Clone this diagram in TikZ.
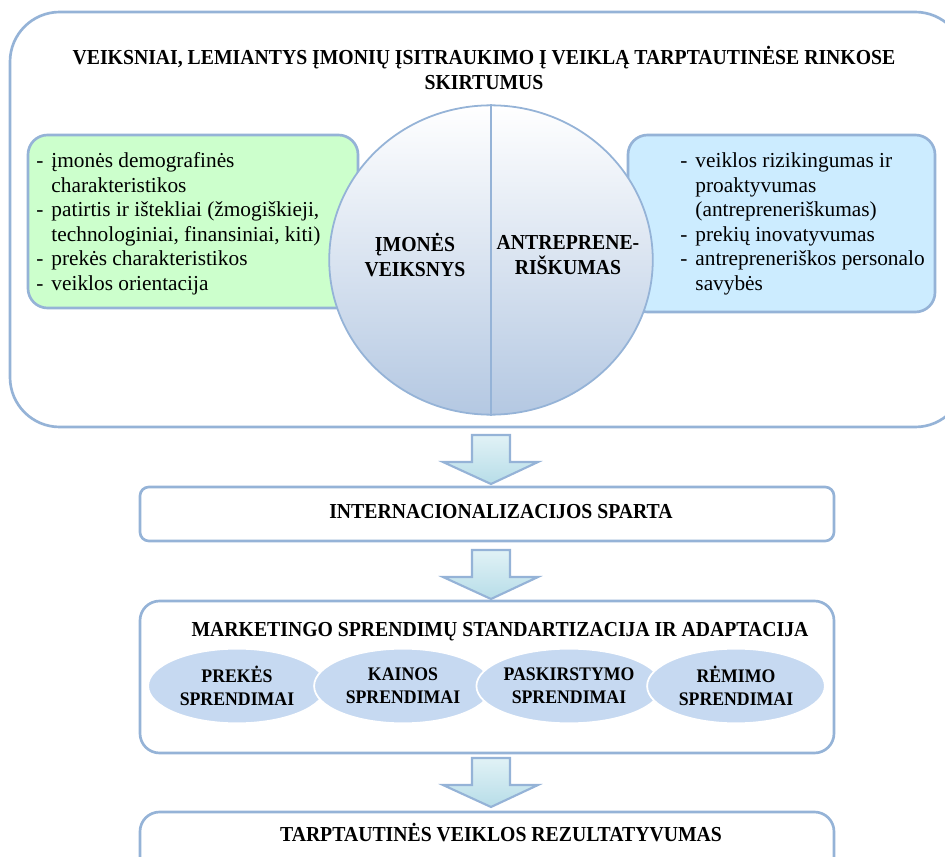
\documentclass[tikz,border=0pt]{standalone}
\usepackage{fontspec}
\setmainfont{Liberation Serif}
\newfontfamily\narrowserif{Liberation Serif}[FakeStretch=0.925]
\usepackage{xcolor}
\usetikzlibrary{positioning,calc,shapes.geometric}
\definecolor{rimblue}{RGB}{149,179,215}
\definecolor{leftfill}{RGB}{204,255,204}
\definecolor{rightfill}{RGB}{204,236,255}
\definecolor{ballbot}{RGB}{180,200,226}
\definecolor{ovalfill}{RGB}{198,217,241}
\definecolor{arrtop}{RGB}{225,242,246}
\definecolor{arrbot}{RGB}{183,221,232}

\begin{document}
\begin{tikzpicture}[x=0.5625pt,y=-0.5625pt]
\tikzstyle{frame}=[draw=rimblue,line width=1.5pt]
\tikzstyle{head}=[font=\narrowserif\bfseries\fontsize{12}{13.8}\selectfont,align=center]
\tikzstyle{list}=[font=\fontsize{12}{13.8}\selectfont,align=left,anchor=north west,inner sep=0pt]
\tikzstyle{oval}=[ellipse,fill=ovalfill,draw=white,line width=1pt,minimum width=100pt,minimum height=42pt,
  font=\narrowserif\bfseries\fontsize{10.8}{13}\selectfont,align=center,inner sep=0pt]
\tikzstyle{blockarrow}=[draw=rimblue,line width=1.2pt,top color=arrtop,bottom color=arrbot,line join=miter]
\useasboundingbox (0,0) rectangle (945,857);
\clip (0,0) rectangle (945,857);

% top frame
\draw[frame,fill=white,rounded corners=28pt] (10,12) rectangle (965,427);
\node[head] (title) at (484,68) {VEIKSNIAI, LEMIANTYS ĮMONIŲ ĮSITRAUKIMO Į VEIKLĄ TARPTAUTINĖSE RINKOSE\\SKIRTUMUS};

% side boxes
\draw[frame,fill=leftfill,rounded corners=11pt] (28,135) rectangle (358,308);
\draw[frame,fill=rightfill,rounded corners=11pt] (628,135) rectangle (935,312);
\node[list] (firm) at (36,150) {\begin{tabular}{@{}l@{\hspace{4.5pt}}l@{}}
- & įmonės demografinės\\
  & charakteristikos\\
- & patirtis ir ištekliai (žmogiškieji,\\
  & technologiniai, finansiniai, kiti)\\
- & prekės charakteristikos\\
- & veiklos orientacija
\end{tabular}};
\node[list] (entre) at (680,150) {\begin{tabular}{@{}l@{\hspace{4.5pt}}l@{}}
- & veiklos rizikingumas ir\\
  & proaktyvumas\\
  & (antrepreneriškumas)\\
- & prekių inovatyvumas\\
- & antrepreneriškos personalo\\
  & savybės
\end{tabular}};

% central ball
\node[ellipse,draw=rimblue,line width=1pt,top color=white,bottom color=ballbot,
  minimum width=182pt,minimum height=174pt] (ball) at (491,260) {};
\draw[rimblue,line width=0.8pt] (ball.north) -- (ball.south);
\node[head] (firmhead) at (415,255) {ĮMONĖS\\VEIKSNYS};
\node[head] (entrehead) at (568,255) {ANTREPRENE-\\RIŠKUMAS};

% arrows
\foreach \top in {435,550,758}
  \draw[blockarrow] (472,\top) -- (510,\top) -- (510,\top+27) -- (538,\top+27) -- (491,\top+49)
    -- (443,\top+27) -- (472,\top+27) -- cycle;

% lower boxes
\draw[frame,fill=white,rounded corners=5pt] (140,487) rectangle (834,541);
\node[head] (speed) at (501,512) {INTERNACIONALIZACIJOS SPARTA};

\draw[frame,fill=white,rounded corners=11pt] (140,601) rectangle (834,753);
\node[head] (mkt) at (500,632) {MARKETINGO SPRENDIMŲ STANDARTIZACIJA IR ADAPTACIJA};
\node[oval] (prod) at (237,686) {PREKĖS\\SPRENDIMAI};
\node[oval] (price) at (403,686) {KAINOS\\SPRENDIMAI};
\node[oval] (place) at (569,686) {PASKIRSTYMO\\SPRENDIMAI};
\node[oval] (promo) at (736,686) {RĖMIMO\\SPRENDIMAI};

\draw[frame,fill=white,rounded corners=11pt] (140,812) rectangle (834,900);
\node[head] (result) at (501,833) {TARPTAUTINĖS VEIKLOS REZULTATYVUMAS};
\end{tikzpicture}
\end{document}
